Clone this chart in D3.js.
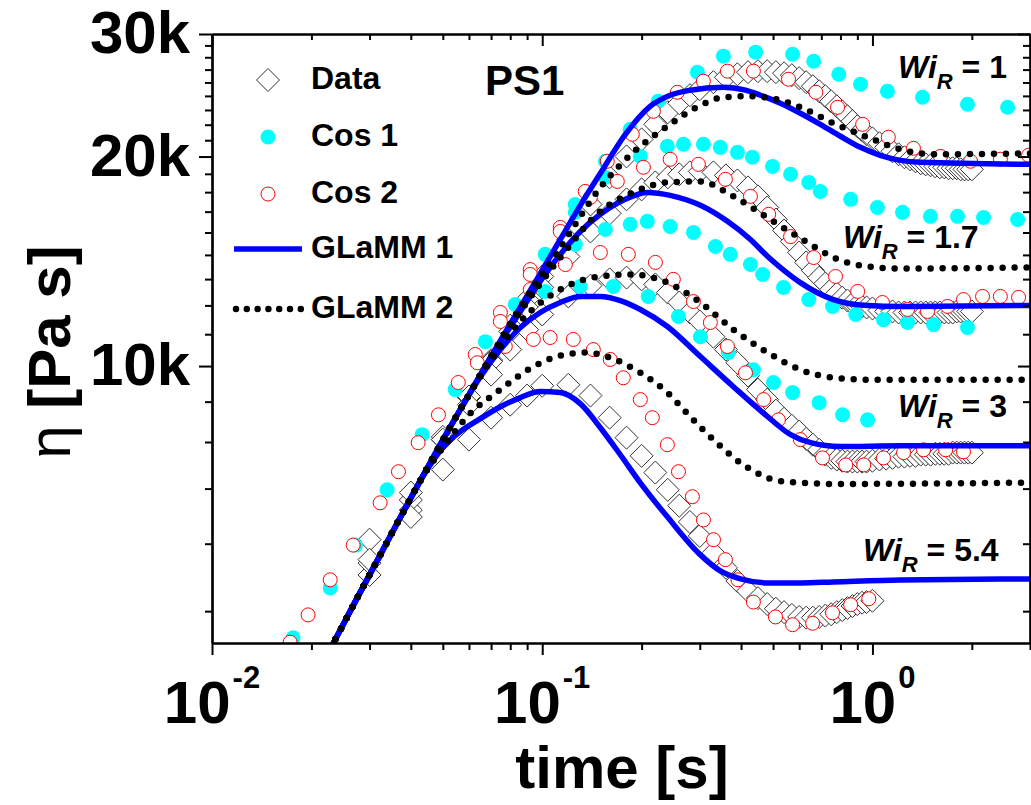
<!DOCTYPE html>
<html>
<head>
<meta charset="utf-8">
<script src="https://cdn.jsdelivr.net/npm/d3@7"></script>
<style>
body { margin: 0; background: #fff; }
svg { display: block; font-family: "Liberation Sans", Arial, sans-serif; }
text { white-space: pre; }
</style>
</head>
<body>
<svg width="1031" height="805"></svg>
<script>
// measured time grid of the data (s)
var tData = [0.03,0.04,0.05,0.06,0.07,0.08,0.09,0.1,
	0.12,0.14,0.16,0.18,0.2,0.22,0.24,0.26,0.28,0.3,
	0.33,0.36,0.39,0.42,0.45,0.48,0.51,0.54,0.57,0.6,0.63,0.66,0.69,0.72,0.75,0.78,0.81,0.84,0.87,0.9,0.93,0.96,
	1.0,
	1.05,1.1,1.15,1.2,1.25,1.3,1.35,1.4,1.45,1.5,1.55,1.6,1.65,1.7,1.75,1.8,1.85,1.9,1.95,2.0];

// data viscosity (Pa s) for each Wi_R
var dataWi1 = [5010,6210,7840,9010,10200,11430,12460,13450,
	15200,17070,18670,20010,21170,22250,23160,23860,24500,24990,
	25580,26000,26260,26440,26530,26530,26440,26350,26180,25920,25580,25240,24820,24420,24010,23620,23230,22850,22480,22110,21820,21530,
	21240,
	20900,20620,20350,20150,19950,19820,19690,19560,19490,19430,19360,19300,19300,19240,19240,19240,19170,19170,19170,19170];
var dataWi17 = [5210,6420,7910,9040,10150,11210,12140,12970,
	14370,15610,16570,17360,17940,18360,18670,18860,18980,19040,
	18980,18790,18480,18060,17530,16900,16240,15660,15100,14560,14090,13720,13400,13140,12880,12710,12540,12420,12300,12220,12180,12140,
	12100,
	12020,11980,11980,11940,11940,11940,11940,11940,11940,11940,11940,11940,11940,11940,11940,11980,11980,11980,11980,11980];
var dataWi3 = [5630,6580,7840,8800,9720,10560,11280,11860,
	12590,13050,13320,13400,13320,13100,12750,12340,11940,11590,
	11020,10560,10110,9690,9250,8950,8630,8400,8210,8050,7860,7710,7580,7460,7380,7340,7310,7290,7290,7290,7290,7290,
	7310,
	7340,7360,7380,7410,7410,7430,7430,7460,7460,7460,7480,7480,7480,7480,7510,7510,7510,7510,7510,7510];
var dataWi54 = [5270,6070,7100,7840,8430,8800,9070,9370,
	9400,9070,8430,7890,7430,7030,6640,6300,5970,5700,
	5390,5130,4910,4750,4640,4550,4480,4430,4390,4360,4350,4350,4360,4380,4400,4430,4460,4490,4520,4550,4570,4580,
	4600];

// Cos 1 model points [t, eta]
var cos1Start = [[0.0176,4070],[0.0228,4800],[0.0272,5530],[0.0339,6640],[0.0433,7970],[0.0545,9250],[0.0673,10840],[0.0829,12260]];
var cos1Wi1 = [[0.1021,14470],[0.1259,17070],[0.1553,19690],[0.1847,21890],[0.2245,24010],[0.295,26440],[0.3537,27880],[0.443,28250],[0.573,28060],[0.664,27420],[0.791,26260],[0.920,25410],[1.110,24820],[1.418,24330],[1.940,23780],[2.566,23540]];
var cos1Wi17 = [[0.1259,16630],[0.1553,18670],[0.1982,20010],[0.2393,20690],[0.2677,20830],[0.3076,20830],[0.346,20620],[0.3901,20280],[0.433,19950],[0.498,19360],[0.565,18860],[0.6414,18360],[0.695,17820],[0.859,17360],[1.0355,16900],[1.233,16630],[1.498,16410],[1.810,16410],[2.170,16350],[2.751,16240]];
var cos1Wi3 = [[0.1259,14950],[0.1553,15710],[0.1847,15980],[0.2081,16140],[0.244,15870],[0.2871,15560],[0.3345,14850],[0.371,14470],[0.4271,13990],[0.465,13540],[0.538,12970],[0.6414,12460],[0.757,12180],[0.890,11860],[1.080,11660],[1.277,11550],[1.531,11470],[1.940,11360]];
var cos1Wi54 = [[0.1021,12800],[0.1304,13010],[0.1642,13010],[0.2094,12590],[0.2586,11780],[0.3013,11020],[0.3662,10460],[0.436,9880],[0.5015,9470],[0.573,9160],[0.6895,8860],[0.812,8510],[0.967,8370]];

// Cos 2 model points [t, eta]
var cos2Start = [[0.01724,4010],[0.01954,4390],[0.0228,4930],[0.02676,5530],[0.0323,6360],[0.0367,7050],[0.0421,7760],[0.0485,8510],[0.0557,9470]];
var cos2Wi1 = [[0.0627,10390],[0.0747,11940],[0.092,13760],[0.1134,15820],[0.135,17820],[0.1574,19690],[0.1874,21530],[0.2171,23230],[0.2566,24740],[0.3076,25660],[0.3638,26530],[0.436,26530],[0.557,25830],[0.674,24740],[0.784,23540],[0.934,22250],[1.117,21320],[1.331,20550],[1.607,20010],[1.982,19690],[2.44,19820],[2.97,20080]];
var cos2Wi17 = [[0.092,13540],[0.1134,15610],[0.1399,17470],[0.1688,18420],[0.2025,19300],[0.244,19820],[0.2971,19490],[0.3587,18550],[0.4271,17530],[0.485,16520],[0.565,15350],[0.664,14320],[0.773,13450],[0.902,12800],[1.072,12340],[1.277,12060],[1.468,11980],[1.688,12180],[1.887,12460],[2.155,12590],[2.44,12590],[2.77,12550]];
var cos2Wi3 = [[0.0747,11590],[0.092,12880],[0.1175,13990],[0.150,14560],[0.1823,14470],[0.2202,14090],[0.2495,13320],[0.2871,12380],[0.323,11550],[0.3638,10670],[0.4126,9780],[0.4683,8950],[0.519,8370],[0.605,7840],[0.706,7380],[0.830,7210],[0.941,7210],[1.080,7380],[1.242,7510],[1.428,7580],[1.666,7580],[1.887,7530]];
var cos2Wi54 = [[0.0636,10110],[0.0773,10670],[0.094,10920],[0.1057,10990],[0.1242,10920],[0.1428,10560],[0.1607,10220],[0.176,9620],[0.1982,8950],[0.2155,8430],[0.2393,7710],[0.2586,7050],[0.2849,6490],[0.3078,6010],[0.3301,5630],[0.3587,5270],[0.3915,4930],[0.436,4580],[0.5085,4360],[0.573,4250],[0.659,4270],[0.757,4420],[0.859,4540],[0.975,4630]];

// GLaMM 1 curves [t, eta]
var glamm1Wi1 = [[0.0218,3780],[0.0233,4000],[0.0275,4640],[0.0323,5350],[0.0371,6050],[0.0427,6840],[0.0491,7710],[0.0593,9010],[0.0711,10455],[0.0859,12160],[0.0986,13580],[0.1134,15200],[0.1304,17020],[0.150,18920],[0.1785,21530],[0.2122,23620],[0.244,24500],[0.2806,24910],[0.3537,25160],[0.4126,24910],[0.458,24500],[0.526,23860],[0.605,23080],[0.695,22250],[0.800,21390],[0.920,20620],[1.056,20080],[1.216,19750],[1.397,19620],[3.0,19490]];
var glamm1Wi17 = [[0.0218,3780],[0.0233,4000],[0.0275,4640],[0.0323,5350],[0.0371,6050],[0.0427,6840],[0.0491,7710],[0.0593,9010],[0.0711,10455],[0.0773,11100],[0.0859,11980],[0.0986,13230],[0.1134,14470],[0.1304,15610],[0.150,16520],[0.1785,17360],[0.2081,17760],[0.244,17590],[0.3013,17020],[0.3638,16140],[0.4271,15200],[0.4815,14370],[0.5453,13670],[0.605,13180],[0.762,12460],[0.967,12220],[1.216,12180],[3.0,12220]];
var glamm1Wi3 = [[0.0218,3780],[0.0233,4000],[0.0275,4640],[0.0323,5350],[0.0371,6050],[0.0427,6840],[0.0491,7710],[0.0593,9010],[0.0650,9655],[0.0747,10560],[0.0859,11360],[0.0986,11940],[0.1134,12340],[0.1304,12590],[0.150,12590],[0.1724,12420],[0.1982,12060],[0.2393,11400],[0.3013,10320],[0.3793,9340],[0.4815,8460],[0.565,7970],[0.650,7760],[0.800,7660],[1.216,7680],[3.0,7680]];
var glamm1Wi54 = [[0.0218,3780],[0.0233,4000],[0.0275,4640],[0.0323,5350],[0.0371,6050],[0.0427,6840],[0.0465,7290],[0.0509,7710],[0.0565,8050],[0.0636,8350],[0.0747,8740],[0.0859,9010],[0.0986,9190],[0.1134,9160],[0.1304,8830],[0.150,8155],[0.1724,7457],[0.1982,6796],[0.2393,6072],[0.3013,5354],[0.3464,5077],[0.3985,4945],[0.4815,4880],[0.605,4880],[0.762,4896],[1.216,4928],[3.0,4945]];

// GLaMM 2 curves [t, eta]
var glamm2Wi1 = [[0.0218,3780],[0.0233,4000],[0.0275,4640],[0.0323,5350],[0.0371,6050],[0.0427,6840],[0.0491,7710],[0.0593,9010],[0.0711,10455],[0.0859,12160],[0.1134,14800],[0.150,18060],[0.1887,20280],[0.2393,22110],[0.3013,23700],[0.3537,24330],[0.4271,24420],[0.5085,24180],[0.605,23550],[0.762,22330],[0.967,21320],[1.216,20480],[1.531,20150],[3.0,20210]];
var glamm2Wi17 = [[0.0218,3780],[0.0233,4000],[0.0275,4640],[0.0323,5350],[0.0371,6050],[0.0427,6840],[0.0491,7710],[0.0593,9010],[0.0711,10455],[0.0859,11980],[0.1134,14320],[0.150,16680],[0.1887,17760],[0.2393,18360],[0.3013,18420],[0.3793,17530],[0.4905,16240],[0.636,15050],[0.762,14320],[0.967,13900],[1.216,13810],[3.0,13860]];
var glamm2Wi3 = [[0.0218,3780],[0.0233,4000],[0.0275,4640],[0.0323,5350],[0.0371,6050],[0.0427,6840],[0.0491,7710],[0.0593,9010],[0.0696,10150],[0.0859,11590],[0.1134,12880],[0.150,13450],[0.1847,13540],[0.2393,13180],[0.3013,12340],[0.3793,11280],[0.4815,10455],[0.605,9880],[0.762,9620],[0.967,9560],[3.0,9560]];
var glamm2Wi54 = [[0.0218,3780],[0.0233,4000],[0.0275,4640],[0.0323,5350],[0.0371,6050],[0.0427,6840],[0.0475,7380],[0.0526,7890],[0.0593,8460],[0.0747,9250],[0.094,9980],[0.1134,10350],[0.135,10455],[0.1607,10280],[0.1982,9780],[0.2393,9160],[0.2806,8460],[0.3345,7790],[0.3985,7260],[0.458,6980],[0.5157,6840],[0.605,6800],[0.746,6770],[3.0,6800]];

// axes and labels
var xMajor = [0.01, 0.1, 1];
var xExp = ["-2", "-1", "0"];
var xMinor = [0.02,0.03,0.04,0.05,0.06,0.07,0.08,0.09,0.2,0.3,0.4,0.5,0.6,0.7,0.8,0.9,2,3];
var yMajor = [10000, 20000, 30000];
var yLabels = ["10k", "20k", "30k"];
var yMinor = d3.range(4, 27).filter(function (k) { return k % 9 !== 0; })
	.map(function (k) { return k * 10000 / 9; });

var legendNames = ["Data", "Cos 1", "Cos 2", "GLaMM 1", "GLaMM 2"];
var wiLabels = ["1", "1.7", "3", "5.4"];

var svg = d3.select("svg");

var x = d3.scaleLog().domain([0.01, 3]).range([212, 1030]);
var y = d3.scaleLog().domain([4000, 30000]).range([643, 34]);

svg.append("defs").append("clipPath").attr("id", "plot")
	.append("rect").attr("x", 212).attr("y", 34).attr("width", 818).attr("height", 609);

var plot = svg.append("g").attr("clip-path", "url(#plot)");

var diamond = "M0,-11.5L11.5,0L0,11.5L-11.5,0Z";

// data diamonds
[dataWi1, dataWi17, dataWi3, dataWi54].forEach(function (vals) {
	var pts = vals.map(function (v, i) { return [tData[i], v]; });
	plot.append("g").selectAll("path").data(pts).enter().append("path")
		.attr("d", diamond)
		.attr("transform", function (d) { return "translate(" + x(d[0]) + "," + y(d[1]) + ")"; })
		.attr("fill", "#fff")
		.attr("stroke", "#333")
		.attr("stroke-width", 1);
});

// Cos 1
[cos1Start, cos1Wi1, cos1Wi17, cos1Wi3, cos1Wi54].forEach(function (pts) {
	plot.append("g").selectAll("circle").data(pts).enter().append("circle")
		.attr("cx", function (d) { return x(d[0]); })
		.attr("cy", function (d) { return y(d[1]); })
		.attr("r", 7.5)
		.attr("fill", "#00ffff");
});

// Cos 2
[cos2Start, cos2Wi1, cos2Wi17, cos2Wi3, cos2Wi54].forEach(function (pts) {
	plot.append("g").selectAll("circle").data(pts).enter().append("circle")
		.attr("cx", function (d) { return x(d[0]); })
		.attr("cy", function (d) { return y(d[1]); })
		.attr("r", 7)
		.attr("fill", "#fff")
		.attr("stroke", "#ff0000")
		.attr("stroke-width", 1);
});

var line = d3.line()
	.x(function (d) { return x(d[0]); })
	.y(function (d) { return y(d[1]); })
	.curve(d3.curveMonotoneX);

[glamm1Wi1, glamm1Wi17, glamm1Wi3, glamm1Wi54].forEach(function (pts) {
	plot.append("path").datum(pts)
		.attr("d", line)
		.attr("fill", "none")
		.attr("stroke", "#0000ff")
		.attr("stroke-width", 5.5);
});

[glamm2Wi1, glamm2Wi17, glamm2Wi3, glamm2Wi54].forEach(function (pts) {
	plot.append("path").datum(pts)
		.attr("d", line)
		.attr("fill", "none")
		.attr("stroke", "#000")
		.attr("stroke-width", 6.5)
		.attr("stroke-linecap", "round")
		.attr("stroke-dasharray", "0 12");
});

// axes
function styleAxis(g) {
	g.select(".domain").attr("stroke-width", 2.2);
	g.selectAll(".tick line").attr("stroke-width", 2);
}

svg.append("g").attr("transform", "translate(0,643)")
	.call(d3.axisBottom(x).tickValues(xMinor).tickSize(7).tickSizeOuter(0).tickFormat(""))
	.call(styleAxis);
svg.append("g").attr("transform", "translate(0,643)")
	.call(d3.axisBottom(x).tickValues(xMajor).tickSize(12).tickSizeOuter(0).tickFormat(""))
	.call(styleAxis);
svg.append("g").attr("transform", "translate(0,34)")
	.call(d3.axisBottom(x).tickValues(xMinor).tickSize(6).tickSizeOuter(0).tickFormat(""))
	.call(styleAxis);
svg.append("g").attr("transform", "translate(0,34)")
	.call(d3.axisBottom(x).tickValues(xMajor).tickSize(12).tickSizeOuter(0).tickFormat(""))
	.call(styleAxis);

svg.append("g").attr("transform", "translate(212,0)")
	.call(d3.axisLeft(y).tickValues(yMinor).tickSize(7).tickSizeOuter(0).tickFormat(""))
	.call(styleAxis);
svg.append("g").attr("transform", "translate(212,0)")
	.call(d3.axisLeft(y).tickValues(yMajor).tickSize(13).tickSizeOuter(0).tickFormat(""))
	.call(styleAxis);
svg.append("g").attr("transform", "translate(1030,0)")
	.call(d3.axisRight(y).tickValues(yMinor).tickSize(-7).tickSizeOuter(0).tickFormat(""))
	.call(styleAxis);
svg.append("g").attr("transform", "translate(1030,0)")
	.call(d3.axisRight(y).tickValues(yMajor).tickSize(-12).tickSizeOuter(0).tickFormat(""))
	.call(styleAxis);

// tick labels
svg.append("g").selectAll("text").data(yMajor).enter().append("text")
	.attr("x", 190)
	.attr("y", function (d) { return y(d) + 19; })
	.attr("text-anchor", "end")
	.attr("font-size", 60)
	.attr("font-weight", "bold")
	.text(function (d, i) { return yLabels[i]; });

var xl = svg.append("g").selectAll("text").data(xMajor).enter().append("text")
	.attr("x", function (d) { return x(d); })
	.attr("y", 723)
	.attr("text-anchor", "middle")
	.attr("font-size", 60)
	.attr("font-weight", "bold");
xl.append("tspan").text("10");
xl.append("tspan").attr("font-size", 31).attr("dy", -35).attr("dx", 2)
	.text(function (d, i) { return xExp[i]; });

// axis titles
svg.append("text")
	.attr("x", 622).attr("y", 788)
	.attr("text-anchor", "middle")
	.attr("font-size", 60).attr("font-weight", "bold")
	.text("time [s]");

var yt = svg.append("text")
	.attr("transform", "translate(70,352) rotate(-90)")
	.attr("text-anchor", "middle")
	.attr("font-size", 60).attr("font-weight", "bold");
yt.append("tspan").attr("font-weight", "normal").text("\u03b7");
yt.append("tspan").text(" [Pa s]");

// PS1
svg.append("text").attr("x", 485).attr("y", 95)
	.attr("font-size", 42).attr("font-weight", "bold").text("PS1");

// Wi_R labels
var wiPos = [[898, 78], [843, 248], [898, 417], [863, 561]];
wiLabels.forEach(function (lab, i) {
	var t = svg.append("text").attr("x", wiPos[i][0]).attr("y", wiPos[i][1])
		.attr("font-size", 32).attr("font-weight", "bold");
	t.append("tspan").attr("font-style", "italic").text("Wi");
	t.append("tspan").attr("font-style", "italic").attr("font-size", 22).attr("dy", 11).text("R");
	t.append("tspan").attr("dy", -11).text(" = " + lab);
});

// legend
var legY = [80, 137, 194, 249, 309];
var leg = svg.append("g");
leg.selectAll("text").data(legendNames).enter().append("text")
	.attr("x", 311)
	.attr("y", function (d, i) { return legY[i] + 9; })
	.attr("font-size", 32).attr("font-weight", "bold")
	.text(function (d) { return d; });
leg.append("path").attr("d", diamond).attr("transform", "translate(268," + legY[0] + ")")
	.attr("fill", "#fff").attr("stroke", "#333").attr("stroke-width", 1);
leg.append("circle").attr("cx", 268).attr("cy", legY[1]).attr("r", 7.5).attr("fill", "#00ffff");
leg.append("circle").attr("cx", 268).attr("cy", legY[2]).attr("r", 7)
	.attr("fill", "#fff").attr("stroke", "#ff0000").attr("stroke-width", 1);
leg.append("line").attr("x1", 234).attr("x2", 302).attr("y1", legY[3]).attr("y2", legY[3])
	.attr("stroke", "#0000ff").attr("stroke-width", 5.5);
leg.append("line").attr("x1", 236).attr("x2", 301).attr("y1", legY[4]).attr("y2", legY[4])
	.attr("stroke", "#000").attr("stroke-width", 6.5).attr("stroke-linecap", "round")
	.attr("stroke-dasharray", "0 10.8");
</script>
</body>
</html>
